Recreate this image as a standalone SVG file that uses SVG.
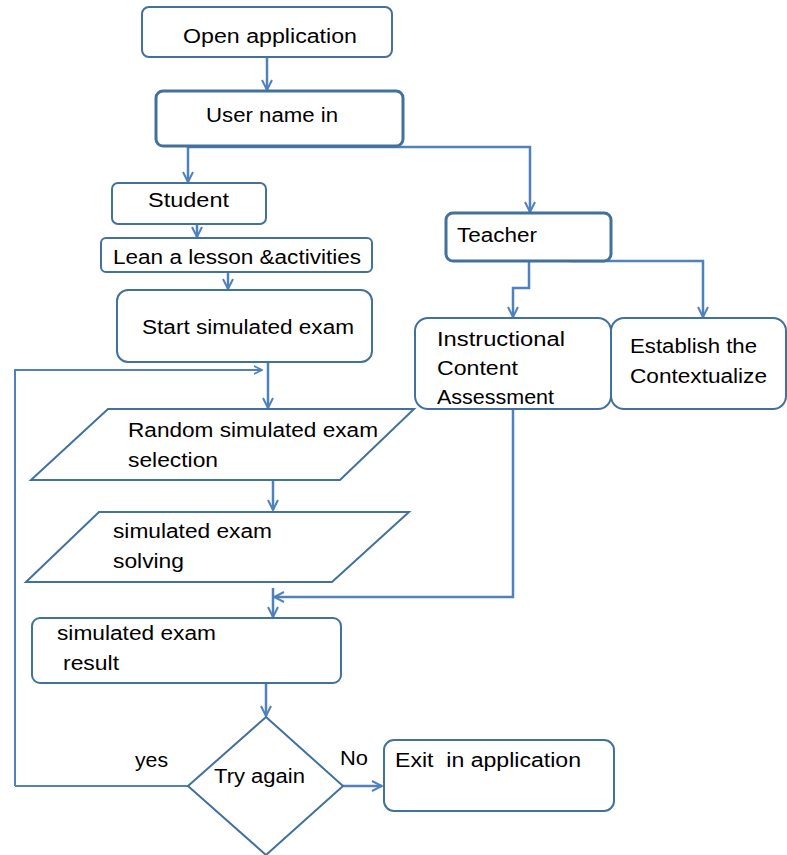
<svg xmlns="http://www.w3.org/2000/svg" width="787" height="855" viewBox="0 0 787 855">
<style>
.box{fill:#fff;stroke:#41719c;stroke-width:2}
.thick{stroke-width:3}
.c{fill:none;stroke:#4f81bd;stroke-width:2.5}
.t{font-family:"Liberation Sans",Arial,sans-serif;font-size:20px;fill:#000}
</style>
<defs>
<marker id="a" viewBox="0 0 10 10" refX="9" refY="5" markerWidth="5" markerHeight="5" orient="auto" markerUnits="strokeWidth">
<path d="M1,1 L9,5 L1,9" fill="none" stroke="#4f81bd" stroke-width="1.6"/>
</marker>
</defs>
<g id="connectors">
<path class="c" d="M267,57 V90" marker-end="url(#a)"/>
<path class="c" d="M188,147 V182" marker-end="url(#a)"/>
<path class="c" d="M188,147 H530 V212" marker-end="url(#a)"/>
<path class="c" d="M197,224 V237" marker-end="url(#a)"/>
<path class="c" d="M228,272 V289" marker-end="url(#a)"/>
<path class="c" d="M268,362 V408" marker-end="url(#a)"/>
<path class="c" d="M15,786 V370 H262" marker-end="url(#a)" style="stroke-width:2"/>
<path class="c" d="M273,480 V510" marker-end="url(#a)"/>
<path class="c" d="M529,261 V288 H513 V317" marker-end="url(#a)"/>
<path class="c" d="M570,261 H703 V317" marker-end="url(#a)"/>
<path class="c" d="M513,409 V597 H274" marker-end="url(#a)"/>
<path class="c" d="M273,588 V617" marker-end="url(#a)"/>
<path class="c" d="M266,683 V716" marker-end="url(#a)"/>
<path class="c" d="M188,786 H15" style="stroke-width:2"/>
<path class="c" d="M343,786 H382" marker-end="url(#a)"/>
</g>
<g id="open">
<rect class="box" x="142" y="7" width="250" height="50" rx="7"/>
<text class="t" x="183" y="43" textLength="174" lengthAdjust="spacingAndGlyphs">Open application</text>
</g>
<g id="user">
<rect class="box thick" x="156" y="91" width="247" height="55" rx="7"/>
<text class="t" x="206" y="122" textLength="132" lengthAdjust="spacingAndGlyphs">User name in</text>
</g>
<g id="student">
<rect class="box" x="112" y="183" width="154" height="41" rx="6"/>
<text class="t" x="148" y="207" textLength="81" lengthAdjust="spacingAndGlyphs">Student</text>
</g>
<g id="lean">
<rect class="box" x="101" y="238" width="271" height="34" rx="5"/>
<text class="t" x="113" y="264" textLength="248" lengthAdjust="spacingAndGlyphs">Lean a lesson &amp;activities</text>
</g>
<g id="start">
<rect class="box" x="117" y="290" width="255" height="72" rx="11"/>
<text class="t" x="142" y="334" textLength="212" lengthAdjust="spacingAndGlyphs">Start simulated exam</text>
</g>
<g id="random">
<polygon class="box" points="108,409 414,409 340,480 31,480"/>
<text class="t" x="128" y="437" textLength="250" lengthAdjust="spacingAndGlyphs">Random simulated exam</text>
<text class="t" x="128" y="467" textLength="90" lengthAdjust="spacingAndGlyphs">selection</text>
</g>
<g id="solving">
<polygon class="box" points="99,512 409,512 332,582 26,582"/>
<text class="t" x="113" y="538" textLength="159" lengthAdjust="spacingAndGlyphs">simulated exam</text>
<text class="t" x="113" y="568" textLength="71" lengthAdjust="spacingAndGlyphs">solving</text>
</g>
<g id="result">
<rect class="box" x="32" y="618" width="309" height="65" rx="8"/>
<text class="t" x="57" y="640" textLength="159" lengthAdjust="spacingAndGlyphs">simulated exam</text>
<text class="t" x="63" y="670" textLength="56" lengthAdjust="spacingAndGlyphs">result</text>
</g>
<g id="try">
<polygon class="box" points="266,717 343,786 266,855 188,786"/>
<text class="t" x="214" y="783" textLength="91" lengthAdjust="spacingAndGlyphs">Try again</text>
</g>
<g id="labels">
<text class="t" x="135" y="767" textLength="33" lengthAdjust="spacingAndGlyphs">yes</text>
<text class="t" x="340" y="765" textLength="28" lengthAdjust="spacingAndGlyphs">No</text>
</g>
<g id="exit">
<rect class="box" x="384" y="740" width="230" height="71" rx="10"/>
<text class="t" x="395" y="767" textLength="186" lengthAdjust="spacingAndGlyphs" style="white-space:pre">Exit  in application</text>
</g>
<g id="teacher">
<rect class="box thick" x="446" y="213" width="165" height="48" rx="7"/>
<text class="t" x="457" y="242" textLength="80" lengthAdjust="spacingAndGlyphs">Teacher</text>
</g>
<g id="instructional">
<rect class="box" x="415" y="318" width="196" height="91" rx="13"/>
<text class="t" x="437" y="346" textLength="128" lengthAdjust="spacingAndGlyphs">Instructional</text>
<text class="t" x="437" y="375" textLength="81" lengthAdjust="spacingAndGlyphs">Content</text>
<text class="t" x="437" y="404" textLength="117" lengthAdjust="spacingAndGlyphs">Assessment</text>
</g>
<g id="establish">
<rect class="box" x="611" y="318" width="175" height="91" rx="13"/>
<text class="t" x="630" y="353" textLength="127" lengthAdjust="spacingAndGlyphs">Establish the</text>
<text class="t" x="630" y="383" textLength="137" lengthAdjust="spacingAndGlyphs">Contextualize</text>
</g>
</svg>
